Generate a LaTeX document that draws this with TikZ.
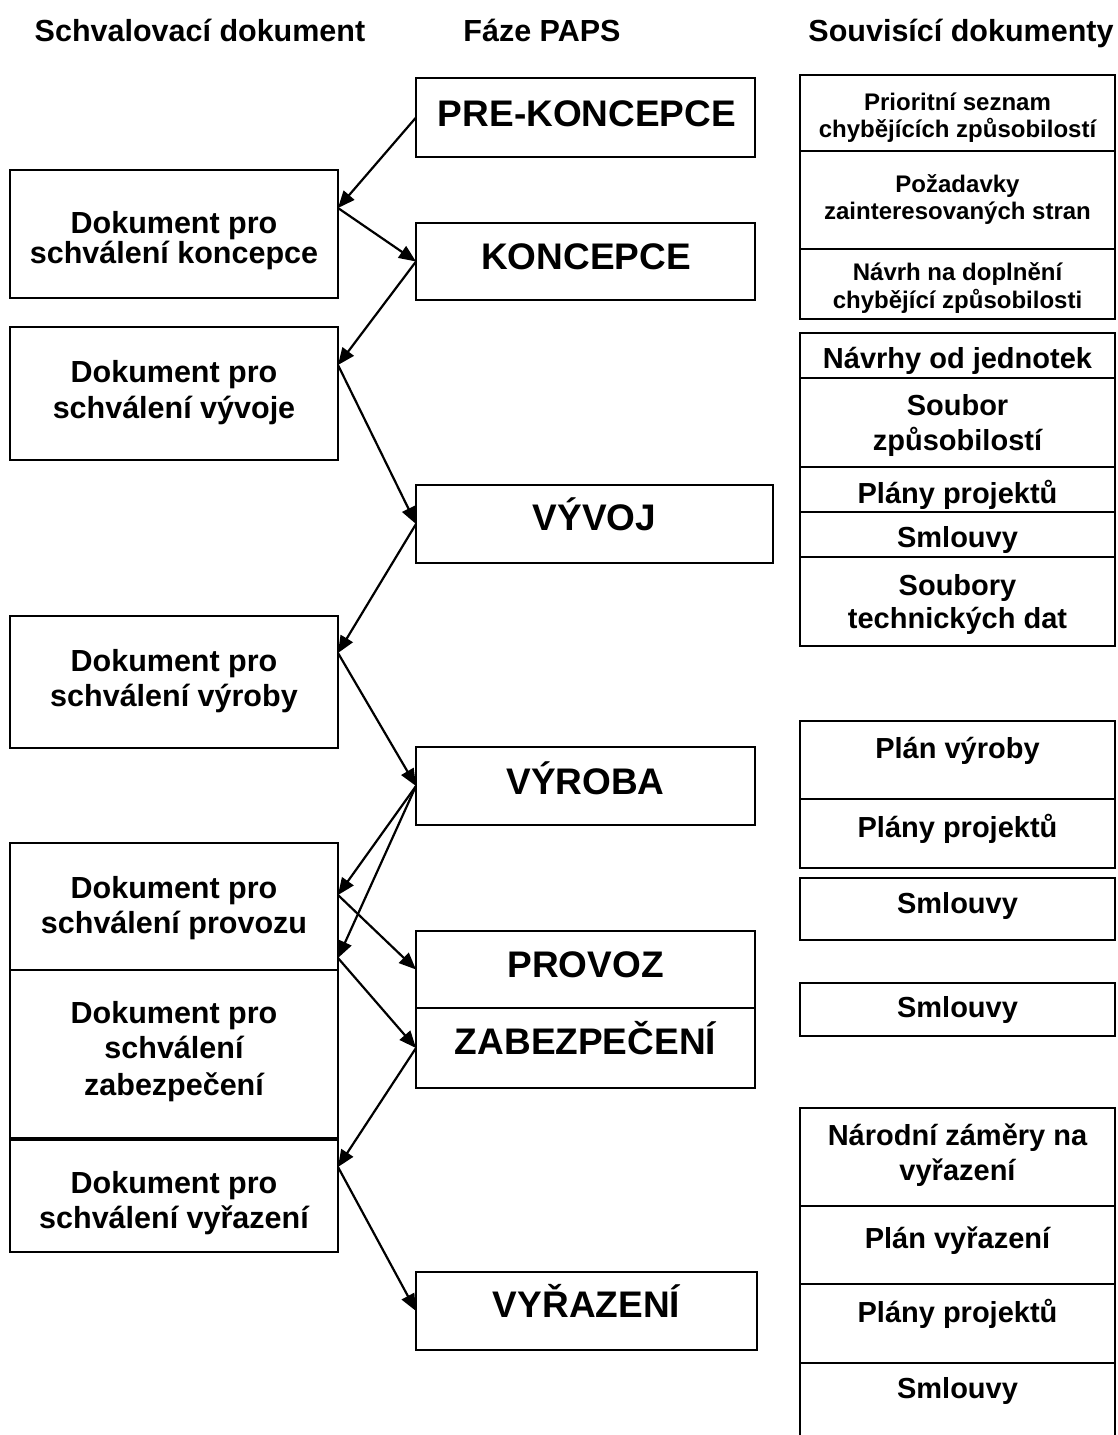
\documentclass[tikz,border=0pt]{standalone}
\usepackage{fontspec}
\setmainfont{Liberation Sans}
\usetikzlibrary{arrows.meta}

\tikzset{
  x=1pt, y=-1pt,
  box/.style={draw, line width=2pt, inner sep=0pt, outer sep=0pt},
  lbl/.style={inner sep=0pt, outer sep=0pt, anchor=base,
    font=\bfseries\fontsize{29}{34}\selectfont},
  doc/.style={lbl, font=\bfseries\fontsize{30.5}{35}\selectfont},
  big/.style={lbl, font=\bfseries\fontsize{37}{42}\selectfont},
  small/.style={lbl, font=\bfseries\fontsize{24}{28}\selectfont},
  head/.style={lbl, font=\bfseries\fontsize{30.5}{35}\selectfont},
  link/.style={line width=2.2pt, -{Triangle[length=17pt,width=14pt]}},
}

% box given by name, left, top, right, bottom
\newcommand{\bx}[5]{%
  \node[box, minimum width={(#4)-(#2)}, minimum height={(#5)-(#3)}]
    (#1) at ({((#2)+(#4))/2},{((#3)+(#5))/2}) {};}
% one line of text: name, style, x, baseline y, text
\newcommand{\tx}[5]{\node[#2] (#1) at (#3,#4) {#5};}

\begin{document}
\begin{tikzpicture}
\useasboundingbox (0,0) rectangle (1118,1435);

% column headings
\tx{h1}{head}{200}{41}{Schvalovací dokument}
\tx{h2}{head}{542}{41}{Fáze PAPS}
\tx{h3}{head}{961}{41}{Souvisící dokumenty}

% approval documents
\bx{kdoc}{10}{170}{338}{298}
\bx{vdoc}{10}{327}{338}{460}
\bx{rdoc}{10}{616}{338}{748}
\bx{pdoc}{10}{843}{338}{970}
\bx{zdoc}{10}{970}{338}{1138}
\bx{ydoc}{10}{1140}{338}{1252}

\tx{kdoc1}{doc}{174}{233}{Dokument pro}
\tx{kdoc2}{doc}{174}{263}{schválení koncepce}
\tx{vdoc1}{doc}{174}{382}{Dokument pro}
\tx{vdoc2}{doc}{174}{418}{schválení vývoje}
\tx{rdoc1}{doc}{174}{671}{Dokument pro}
\tx{rdoc2}{doc}{174}{706}{schválení výroby}
\tx{pdoc1}{doc}{174}{898}{Dokument pro}
\tx{pdoc2}{doc}{174}{933}{schválení provozu}
\tx{zdoc1}{doc}{174}{1023}{Dokument pro}
\tx{zdoc2}{doc}{174}{1058}{schválení}
\tx{zdoc3}{doc}{174}{1095}{zabezpečení}
\tx{ydoc1}{doc}{174}{1193}{Dokument pro}
\tx{ydoc2}{doc}{174}{1228}{schválení vyřazení}

% phases
\bx{pre}{416}{78}{755}{157}
\bx{konc}{416}{223}{755}{300}
\bx{vyvoj}{416}{485}{773}{563}
\bx{vyroba}{416}{747}{755}{825}
\bx{provoz}{416}{931}{755}{1008}
\bx{zab}{416}{1008}{755}{1088}
\bx{vyr}{416}{1272}{757}{1350}

\tx{pre1}{big}{587}{126}{PRE-KONCEPCE}
\tx{konc1}{big}{586}{269}{KONCEPCE}
\tx{vyvoj1}{big}{594.5}{530}{VÝVOJ}
\tx{vyroba1}{big}{585.5}{794}{VÝROBA}
\tx{provoz1}{big}{585.5}{977}{PROVOZ}
\tx{zab1}{big}{585.5}{1054}{ZABEZPEČENÍ}
\tx{vyr1}{big}{586.5}{1317}{VYŘAZENÍ}

% related documents
\bx{r1}{800}{75}{1115}{151}
\bx{r2}{800}{151}{1115}{249}
\bx{r3}{800}{249}{1115}{319}
\bx{r4}{800}{333}{1115}{378}
\bx{r5}{800}{378}{1115}{467}
\bx{r6}{800}{467}{1115}{512}
\bx{r7}{800}{512}{1115}{557}
\bx{r8}{800}{557}{1115}{646}
\bx{r9}{800}{721}{1115}{799}
\bx{r10}{800}{799}{1115}{868}
\bx{r11}{800}{878}{1115}{940}
\bx{r12}{800}{983}{1115}{1036}
\bx{r13}{800}{1108}{1115}{1206}
\bx{r14}{800}{1206}{1115}{1284}
\bx{r15}{800}{1284}{1115}{1363}
\bx{r16}{800}{1363}{1115}{1460}

\tx{r1a}{small}{957.5}{110}{Prioritní seznam}
\tx{r1b}{small}{957.5}{137}{chybějících způsobilostí}
\tx{r2a}{small}{957.5}{192}{Požadavky}
\tx{r2b}{small}{957.5}{219}{zainteresovaných stran}
\tx{r3a}{small}{957.5}{280}{Návrh na doplnění}
\tx{r3b}{small}{957.5}{308}{chybějící způsobilosti}
\tx{r4a}{lbl}{957.5}{368}{Návrhy od jednotek}
\tx{r5a}{lbl}{957.5}{415}{Soubor}
\tx{r5b}{lbl}{957.5}{450}{způsobilostí}
\tx{r6a}{lbl}{957.5}{503}{Plány projektů}
\tx{r7a}{lbl}{957.5}{547}{Smlouvy}
\tx{r8a}{lbl}{957.5}{595}{Soubory}
\tx{r8b}{lbl}{957.5}{628}{technických dat}
\tx{r9a}{lbl}{957.5}{758}{Plán výroby}
\tx{r10a}{lbl}{957.5}{837}{Plány projektů}
\tx{r11a}{lbl}{957.5}{913}{Smlouvy}
\tx{r12a}{lbl}{957.5}{1017}{Smlouvy}
\tx{r13a}{lbl}{957.5}{1145}{Národní záměry na}
\tx{r13b}{lbl}{957.5}{1180}{vyřazení}
\tx{r14a}{lbl}{957.5}{1248}{Plán vyřazení}
\tx{r15a}{lbl}{957.5}{1322}{Plány projektů}
\tx{r16a}{lbl}{957.5}{1398}{Smlouvy}

% attachment points on the approval documents
\coordinate (kdoc-a) at ([yshift=-38pt]kdoc.north east);
\coordinate (vdoc-a) at ([yshift=-38pt]vdoc.north east);
\coordinate (rdoc-a) at ([yshift=-37pt]rdoc.north east);
\coordinate (pdoc-a) at ([yshift=-52pt]pdoc.north east);
\coordinate (pdoc-b) at ([yshift=-115pt]pdoc.north east);
\coordinate (ydoc-a) at ([yshift=-27pt]ydoc.north east);

% flow
\draw[link] (pre.west) -- (kdoc-a);
\draw[link] (kdoc-a) -- (konc.west);
\draw[link] (konc.west) -- (vdoc-a);
\draw[link] (vdoc-a) -- (vyvoj.west);
\draw[link] (vyvoj.west) -- (rdoc-a);
\draw[link] (rdoc-a) -- (vyroba.west);
\draw[link] (vyroba.west) -- (pdoc-a);
\draw[link] (vyroba.west) -- (pdoc-b);
\draw[link] (pdoc-a) -- (provoz.west);
\draw[link] (pdoc-b) -- (zab.west);
\draw[link] (zab.west) -- (ydoc-a);
\draw[link] (ydoc-a) -- (vyr.west);
\end{tikzpicture}
\end{document}
